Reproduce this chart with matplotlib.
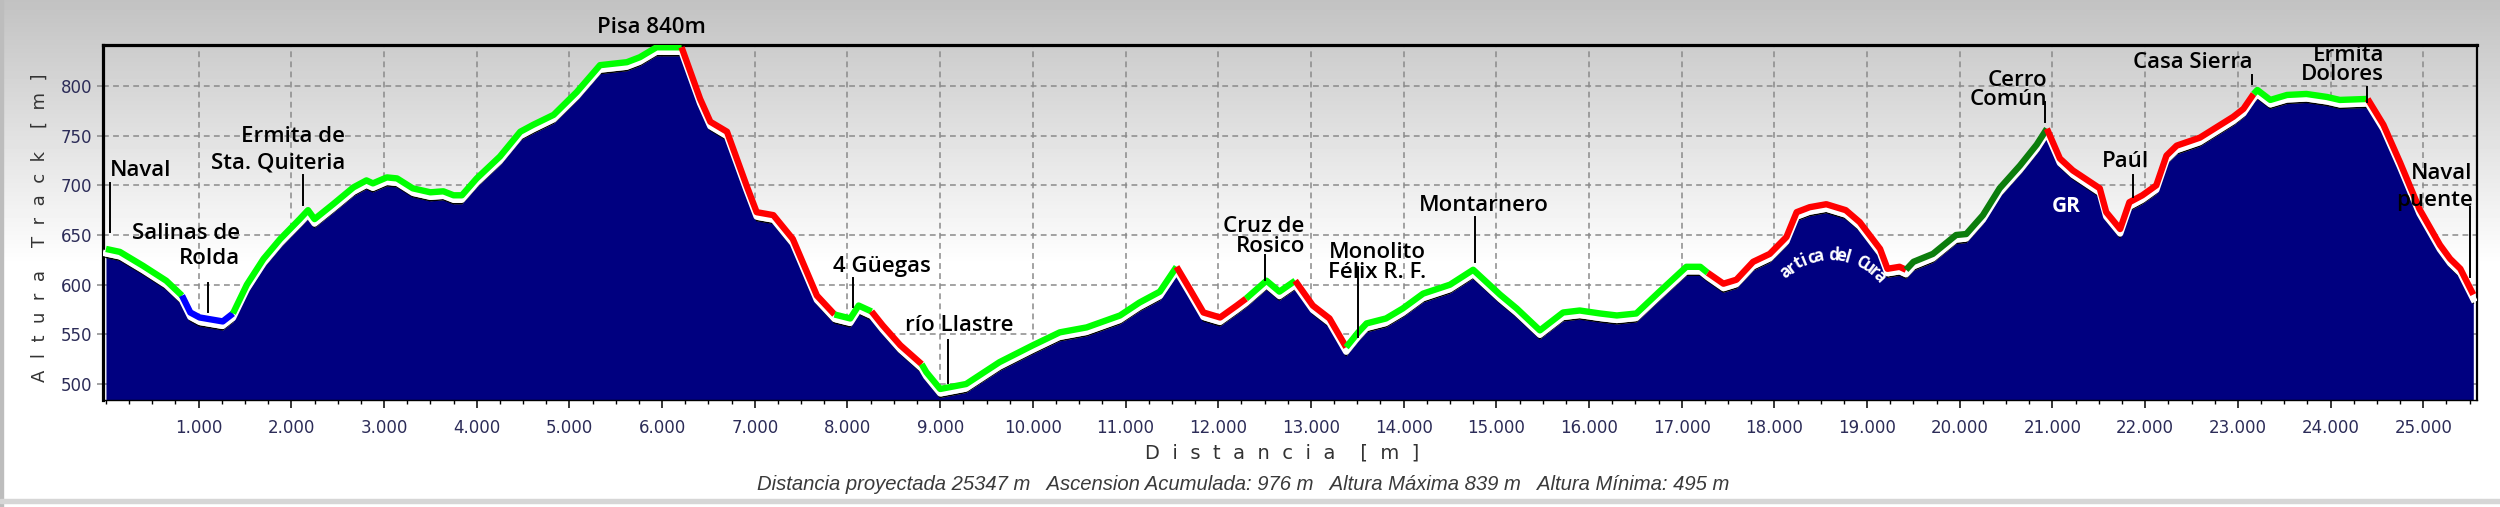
import numpy as np
import matplotlib
matplotlib.use("Agg")
import matplotlib.pyplot as plt
from matplotlib.ticker import MultipleLocator, FixedLocator, FixedFormatter
from matplotlib.patches import Rectangle

# Perfil del track: distancia en km, altura en m

distancia = [0.00, 0.15, 0.40, 0.65, 0.82, 0.91, 1.01, 1.26, 1.37, 1.52, 1.70, 1.88,
             2.09, 2.18, 2.25, 2.45, 2.67, 2.81, 2.88, 3.03, 3.14, 3.31, 3.50, 3.64,
             3.75, 3.84, 4.00, 4.25, 4.47, 4.61, 4.83, 5.08, 5.33, 5.62, 5.76, 5.94,
             6.21, 6.41, 6.52, 6.70, 6.91, 7.02, 7.20, 7.41, 7.67, 7.86, 8.03, 8.12,
             8.26, 8.38, 8.57, 8.80, 8.85, 9.00, 9.28, 9.64, 10.00, 10.29, 10.58, 10.94,
             11.15, 11.37, 11.55, 11.69, 11.84, 12.02, 12.20, 12.30, 12.52, 12.66, 12.83, 13.02,
             13.20, 13.38, 13.51, 13.60, 13.81, 13.99, 14.21, 14.50, 14.75, 15.04, 15.22, 15.47,
             15.72, 15.90, 16.12, 16.30, 16.51, 16.76, 17.05, 17.20, 17.28, 17.45, 17.59, 17.77,
             17.95, 18.13, 18.24, 18.38, 18.56, 18.77, 18.92, 19.14, 19.22, 19.35, 19.42, 19.50,
             19.71, 19.96, 20.07, 20.25, 20.43, 20.65, 20.83, 20.94, 21.08, 21.22, 21.51, 21.58,
             21.73, 21.83, 21.97, 22.12, 22.23, 22.34, 22.59, 22.95, 23.06, 23.17, 23.21, 23.35,
             23.53, 23.74, 23.96, 24.10, 24.40, 24.57, 24.75, 24.96, 25.18, 25.29, 25.40, 25.54]

altura = [636, 633, 619, 604, 589, 572, 567, 563, 571, 600, 626, 646,
          666, 675, 666, 681, 698, 705, 702, 708, 707, 697, 693, 694,
          690, 690, 707, 729, 754, 761, 771, 794, 821, 824, 829, 839,
          839, 787, 764, 754, 700, 673, 670, 646, 589, 570, 566, 579,
          573, 559, 539, 520, 512, 495, 500, 522, 539, 552, 557, 569,
          582, 593, 618, 596, 572, 567, 579, 586, 604, 593, 604, 579,
          566, 537, 552, 561, 566, 576, 591, 600, 615, 590, 576, 554,
          572, 574, 571, 569, 571, 593, 618, 618, 612, 601, 605, 623,
          631, 648, 673, 678, 681, 675, 663, 636, 616, 618, 615, 623,
          631, 650, 651, 670, 697, 720, 741, 757, 727, 715, 697, 673,
          656, 683, 690, 700, 730, 740, 748, 769, 777, 792, 796, 786,
          791, 792, 789, 786, 787, 761, 723, 676, 640, 626, 616, 590]

# tramos coloreados del track (km)
tramo_ini = [0.00, 0.82, 1.37, 6.21, 7.86, 8.26, 8.80, 11.55, 12.30, 12.83, 13.38, 17.28, 19.42, 20.94, 23.17, 24.40]
tramo_fin = [0.82, 1.37, 6.21, 7.86, 8.26, 8.80, 11.55, 12.30, 12.83, 13.38, 17.28, 19.42, 20.94, 23.17, 24.40, 25.54]
tramo_tipo = ['verde', 'azul', 'verde', 'rojo', 'verde', 'rojo', 'verde', 'rojo', 'verde', 'rojo',
              'verde', 'rojo', 'gr', 'rojo', 'verde', 'rojo']

colores = {'verde': '#00ff00', 'azul': '#0000ff', 'rojo': '#ff0000', 'gr': '#0c7d0c'}

x_ticks = list(range(1, 26))
x_labels = ['{}.000'.format(k) for k in x_ticks]
y_ticks = [500, 550, 600, 650, 700, 750, 800]

W, H = 2500, 507
d = np.array(distancia)
h = np.array(altura)


def fx(px):
    return px / W


def fy(py):
    return 1 - py / H


fig = plt.figure(figsize=(W / 100, H / 100), dpi=100)

# fondo degradado gris -> blanco
bg = fig.add_axes([0, 0, 1, 1], zorder=-10)
filas = np.arange(H)
gris = np.clip(194 + 61 * filas / 265, 0, 255) / 255
bg.imshow(np.repeat(gris[:, None], 2, axis=1), cmap='gray', vmin=0, vmax=1,
          aspect='auto', extent=[0, 1, 0, 1])
bg.axis('off')
fig.patches.append(Rectangle((0, 0), fx(3), 1, transform=fig.transFigure, color='#bdbdbd', zorder=-5))
fig.patches.append(Rectangle((0, fy(503)), 1, 4 / H, transform=fig.transFigure, color='#d6d6d6', zorder=-5))

ax = fig.add_axes([fx(103), fy(400), fx(2477) - fx(103), (400 - 45) / H])
ax.patch.set_alpha(0)
ax.set_xlim(-0.032, 25.58)
ax.set_ylim(483.9, 841.3)

# relleno azul marino, borde negro, franja blanca y linea de color
base = h - 8.5
ax.fill_between(d, 480, base, color='#000080', lw=0, zorder=2)
ax.plot(d, base, color='black', lw=1.1, zorder=3)
ax.plot(d, h - 4.5, color='white', lw=4.6, zorder=3, solid_joinstyle='round')
for a, b, t in zip(tramo_ini, tramo_fin, tramo_tipo):
    m = (d >= a - 1e-9) & (d <= b + 1e-9)
    ax.plot(d[m], h[m], color=colores[t], lw=4.6, zorder=4,
            solid_joinstyle='round', solid_capstyle='butt')

# rejilla y ejes
ax.xaxis.set_major_locator(FixedLocator(x_ticks))
ax.xaxis.set_major_formatter(FixedFormatter(x_labels))
ax.xaxis.set_minor_locator(MultipleLocator(0.25))
ax.set_yticks(y_ticks)
ax.set_axisbelow(True)
ax.grid(True, which='major', color='#8a8a8a', linestyle=(0, (3.8, 2.8)), lw=1.1, zorder=0)
ax.tick_params(axis='x', which='major', direction='out', length=5.8, width=1.1, color='black',
               pad=8, labelsize=12, labelcolor='#2c2c58')
ax.tick_params(axis='x', which='minor', direction='out', length=3, width=1.0, color='black')
ax.tick_params(axis='y', which='major', direction='out', length=4, width=1.1, color='#8a8a8a',
               pad=4, labelsize=12, labelcolor='#2c2c58')
for lado, ancho in (('left', 2.3), ('top', 2.3), ('right', 1.6), ('bottom', 1.0)):
    ax.spines[lado].set_color('black')
    ax.spines[lado].set_linewidth(ancho)

# etiquetas de lugares
fuente = 'Open Sans'


def lugar(texto, x, y, ha='center', ls=1.2, linea=None):
    ax.text(x, y, texto, ha=ha, va='center', multialignment=ha, fontsize=16, family=fuente,
            fontweight='semibold', linespacing=ls, color='black', clip_on=False, zorder=6)
    if linea:
        ax.plot([linea[0], linea[0]], [linea[1], linea[2]], color='black', lw=1.4,
                zorder=6, clip_on=False)


lugar('Naval', 0.043, 715.4, ha='left', linea=(0.043, 702.4, 653))
lugar('Salinas de\nRolda', 1.446, 639, ha='right', ls=1.27, linea=(1.097, 601.7, 572.5))
lugar('Ermita de\nSta. Quiteria', 2.578, 735.6, ha='right', ls=1.36, linea=(2.122, 710.4, 680.2))
lugar('Pisa 840m', 5.89, 859.4)
lugar('4 Güegas', 8.371, 617.8, linea=(8.058, 606.7, 577.5))
lugar('río Llastre', 9.204, 559.4, linea=(9.08, 544.3, 501))
lugar('Cruz de\nRosico', 12.934, 648.3, ha='right', ls=0.91, linea=(12.503, 629.9, 604.7))
lugar('Monolito\nFélix R. F.', 13.716, 622.3, ls=0.95, linea=(13.506, 617.8, 547.3))
lugar('Montarnero', 14.865, 680.2, linea=(14.768, 668.1, 622.8))
lugar('Cerro\nComún', 20.949, 796, ha='right', ls=0.91, linea=(20.917, 783.6, 763.8))
lugar('Paúl', 21.79, 723.8, linea=(21.867, 710.4, 688.3))
lugar('Casa Sierra', 22.513, 823.5, linea=(23.157, 811, 801.7))
lugar('Ermita\nDolores', 24.574, 821.2, ha='right', ls=0.91, linea=(24.398, 799.3, 784.2))
lugar('Naval\npuente', 25.534, 698.6, ha='right', ls=1.36, linea=(25.5, 678.5, 608))

ax.text(21.151, 678.5, 'GR', ha='center', va='center', fontsize=15, fontweight='bold',
        family=fuente, color='white', zorder=6)

# texto curvo "artica del Cura"
curva = 'artica del Cura'
for i, ch in enumerate(curva):
    ang = np.radians(-42 + 90 * i / (len(curva) - 1))
    px = 1830 + 66 * np.sin(ang)
    py = 321 - 66 * np.cos(ang)
    fig.text(fx(px), fy(py), ch, rotation=-np.degrees(ang), rotation_mode='anchor',
             ha='center', va='center', fontsize=12, fontweight='bold', family=fuente,
             color='white', zorder=7)

# titulos de ejes y pie
fig.text(fx(40), fy(228), 'A  l  t  u  r  a    T  r  a  c  k    [  m  ]', rotation=90,
         ha='center', va='center', fontsize=13, color='#333333')
fig.text(fx(1282), fy(453), 'D  i  s  t  a  n  c  i  a    [  m  ]', ha='center', va='center',
         fontsize=14, color='#333333')
fig.text(fx(1243), fy(485),
         'Distancia proyectada 25347 m   Ascension Acumulada: 976 m   Altura Máxima 839 m   Altura Mínima: 495 m',
         ha='center', va='center', fontsize=14.6, style='italic', family='Liberation Sans',
         color='#3a3a3a')

fig.savefig('out.png', dpi=100)
